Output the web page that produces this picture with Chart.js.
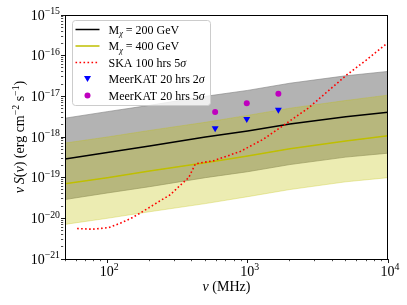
<!DOCTYPE html>
<html>
<head>
<meta charset="utf-8">
<script src="https://cdn.jsdelivr.net/npm/chart.js@4.4.0/dist/chart.umd.min.js"></script>
<style>
  html, body { margin: 0; padding: 0; background: #fff; }
  #wrap { width: 407px; height: 305px; }
</style>
</head>
<body>
<div id="wrap"><canvas id="chart"></canvas></div>
<script>
// model curves, frequency in MHz
const freqs = [50, 100, 200, 500, 1000, 2000, 5000, 10000];
const flux200 = [2.88e-19, 4.17e-19, 6.03e-19, 1.0e-18, 1.41e-18, 2.09e-18, 3.16e-18, 4.07e-18];
const band200Hi = [2.9e-18, 4.2e-18, 6.0e-18, 1.0e-17, 1.4e-17, 2.1e-17, 3.2e-17, 4.1e-17];
const band200Lo = [2.9e-20, 4.2e-20, 6.0e-20, 1.0e-19, 1.4e-19, 2.1e-19, 3.2e-19, 4.0e-19];
const flux400 = [7.1e-20, 1.0e-19, 1.45e-19, 2.34e-19, 3.39e-19, 5.13e-19, 7.94e-19, 1.07e-18];
const band400Hi = [7.1e-19, 1.0e-18, 1.45e-18, 2.3e-18, 3.4e-18, 5.1e-18, 7.9e-18, 1.07e-17];
const band400Lo = [7.1e-21, 1.0e-20, 1.45e-20, 2.3e-20, 3.4e-20, 5.1e-20, 7.9e-20, 1.0e-19];

// SKA sensitivity curve
const skaFreqs = [61, 78, 102, 124, 146, 172, 202, 238, 281, 331, 380, 425, 570, 885, 1300, 1900, 2700, 5100, 7000, 10000];
const skaFlux = [5.6e-21, 5.4e-21, 5.9e-21, 7.6e-21, 9.8e-21, 1.35e-20, 1.9e-20, 2.7e-20, 3.8e-20, 6.5e-20, 1.0e-19, 2.2e-19, 2.6e-19, 4.4e-19, 8.9e-19, 2.2e-18, 5.1e-18, 3.4e-17, 7.8e-17, 2.1e-16];

// MeerKAT points
const meerFreqs = [587, 986, 1656];
const meer2sig = [1.65e-18, 2.77e-18, 4.7e-18];
const meer5sig = [4.1e-18, 6.8e-18, 1.15e-17];

// axis decades (tick label exponents)
const xDecades = [2, 3, 4];
const yDecades = [-21, -20, -19, -18, -17, -16, -15];

const legendLabels = ['200 GeV', '400 GeV', 'SKA 100 hrs 5', 'MeerKAT 20 hrs 2', 'MeerKAT 20 hrs 5'];

const SERIF = '"Liberation Serif", "DejaVu Serif", serif';
const GREY_FILL = 'rgba(128,128,128,0.6)';
const YEL_FILL = 'rgba(191,191,0,0.3)';

const zip = (xs, ys) => xs.map((x, i) => ({ x: x, y: ys[i] }));
const isDecade = v => Math.abs(Math.log10(v) - Math.round(Math.log10(v))) < 1e-6;

// minor + major tick positions
function logTicks(lo, hi) {
  const out = [];
  for (let e = lo; e < hi; e++) {
    for (let k = 1; k < 10; k++) out.push(k * Math.pow(10, e));
  }
  out.push(Math.pow(10, hi));
  return out;
}
const xTickVals = logTicks(1, 4).filter(v => v >= 50);
const yTickVals = logTicks(-21, -15);

// draw a row of text pieces (normal / italic / superscript)
function richWidth(ctx, parts, size) {
  let w = 0;
  parts.forEach(p => {
    ctx.font = (p.it ? 'italic ' : '') + (p.sup || p.sub ? size * 0.7 : size) + 'px ' + SERIF;
    w += ctx.measureText(p.t).width;
  });
  return w;
}
function drawRich(ctx, parts, x, y, size, align) {
  let w = richWidth(ctx, parts, size);
  let cx = align === 'center' ? x - w / 2 : align === 'right' ? x - w : x;
  ctx.textAlign = 'left';
  ctx.textBaseline = 'alphabetic';
  parts.forEach(p => {
    const s = p.sup || p.sub ? size * 0.7 : size;
    ctx.font = (p.it ? 'italic ' : '') + s + 'px ' + SERIF;
    let dy = p.sup ? -size * 0.38 : p.sub ? size * 0.22 : 0;
    ctx.fillText(p.t, cx, y + dy);
    cx += ctx.measureText(p.t).width;
  });
}

const decorPlugin = {
  id: 'decor',
  afterDraw(chart) {
    const ctx = chart.ctx;
    const a = chart.chartArea;
    const xs = chart.scales.x, ys = chart.scales.y;
    ctx.save();
    ctx.fillStyle = '#000';

    // frame
    ctx.strokeStyle = '#000';
    ctx.lineWidth = 1;
    ctx.strokeRect(Math.round(a.left) + 0.5, Math.round(a.top) + 0.5,
      Math.round(a.right - a.left) - 1, Math.round(a.bottom - a.top));

    // tick labels
    xDecades.forEach(e => {
      const px = xs.getPixelForValue(Math.pow(10, e));
      drawRich(ctx, [{ t: '10' }, { t: String(e), sup: true }], px + 2, a.bottom + 16.5, 14, 'center');
    });
    yDecades.forEach(e => {
      const py = ys.getPixelForValue(Math.pow(10, e));
      drawRich(ctx, [{ t: '10' }, { t: '\u2212' + String(-e), sup: true }], a.left - 5, py + 4.5, 14, 'right');
    });

    // axis titles
    drawRich(ctx, [{ t: '\u03bd', it: true }, { t: ' (MHz)' }], (a.left + a.right) / 2, 291, 14, 'center');
    ctx.save();
    ctx.translate(19, (a.top + a.bottom) / 2);
    ctx.rotate(-Math.PI / 2);
    drawRich(ctx, [
      { t: '\u03bd', it: true }, { t: '\u2009' }, { t: 'S', it: true }, { t: '(' }, { t: '\u03bd', it: true }, { t: ')' },
      { t: ' (erg cm' }, { t: '\u22122', sup: true }, { t: ' s' }, { t: '\u22121', sup: true }, { t: ')' }
    ], 0, 5, 14, 'center');
    ctx.restore();

    // legend
    const lx = a.left + 7, ly = a.top + 5, lw = 138, lh = 85;
    ctx.beginPath();
    ctx.roundRect(lx + 0.5, ly + 0.5, lw, lh, 3);
    ctx.fillStyle = 'rgba(255,255,255,0.8)';
    ctx.fill();
    ctx.strokeStyle = '#cccccc';
    ctx.lineWidth = 1;
    ctx.stroke();

    const rowY = i => ly + 9.5 + i * 16.5;
    const hx0 = lx + 3.5, hx1 = lx + 27.5, tx = lx + 36.5;
    const handle = (i, color, dash, width) => {
      ctx.beginPath();
      ctx.setLineDash(dash);
      ctx.strokeStyle = color;
      ctx.lineWidth = width;
      ctx.moveTo(hx0, rowY(i));
      ctx.lineTo(hx1, rowY(i));
      ctx.stroke();
      ctx.setLineDash([]);
    };
    handle(0, '#000', [], 1.5);
    handle(1, '#bfbf00', [], 1.5);
    handle(2, '#ff0000', [1.6, 2.4], 1.6);
    // triangle marker
    const mx = (hx0 + hx1) / 2;
    ctx.fillStyle = '#0000ff';
    ctx.beginPath();
    ctx.moveTo(mx - 3.5, rowY(3) - 3);
    ctx.lineTo(mx + 3.5, rowY(3) - 3);
    ctx.lineTo(mx, rowY(3) + 3);
    ctx.closePath();
    ctx.fill();
    ctx.fillStyle = '#bf00bf';
    ctx.beginPath();
    ctx.arc(mx, rowY(4), 3, 0, Math.PI * 2);
    ctx.fill();

    ctx.fillStyle = '#000';
    const fs = 12, base = 4;
    drawRich(ctx, [{ t: 'M' }, { t: '\u03c7', it: true, sub: true }, { t: ' = ' + legendLabels[0] }], tx, rowY(0) + base, fs, 'left');
    drawRich(ctx, [{ t: 'M' }, { t: '\u03c7', it: true, sub: true }, { t: ' = ' + legendLabels[1] }], tx, rowY(1) + base, fs, 'left');
    drawRich(ctx, [{ t: legendLabels[2] }, { t: '\u03c3', it: true }], tx, rowY(2) + base, fs, 'left');
    drawRich(ctx, [{ t: legendLabels[3] }, { t: '\u03c3', it: true }], tx, rowY(3) + base, fs, 'left');
    drawRich(ctx, [{ t: legendLabels[4] }, { t: '\u03c3', it: true }], tx, rowY(4) + base, fs, 'left');
    ctx.restore();
  }
};

const tickGrid = {
  drawOnChartArea: false,
  drawTicks: true,
  tickLength: 4,
  tickColor: '#000',
  tickWidth: c => (c.tick && isDecade(c.tick.value)) ? 0.9 : 0.7,
  tickBorderDash: c => (c.tick && isDecade(c.tick.value)) ? [] : [2.2, 10]
};

new Chart(document.getElementById('chart'), {
  type: 'line',
  data: {
    datasets: [
      { data: zip(freqs, band200Hi), borderColor: GREY_FILL, borderWidth: 1, pointRadius: 0, fill: false, order: 11 },
      { data: zip(freqs, band200Lo), borderColor: GREY_FILL, borderWidth: 1, pointRadius: 0, fill: 0, backgroundColor: GREY_FILL, order: 10 },
      { data: zip(freqs, band400Hi), borderColor: YEL_FILL, borderWidth: 1, pointRadius: 0, fill: false, order: 9 },
      { data: zip(freqs, band400Lo), borderColor: YEL_FILL, borderWidth: 1, pointRadius: 0, fill: 2, backgroundColor: YEL_FILL, order: 8 },
      { data: zip(freqs, flux400), borderColor: '#bfbf00', borderWidth: 1.5, pointRadius: 0, fill: false, order: 3 },
      { data: zip(freqs, flux200), borderColor: '#000000', borderWidth: 1.5, pointRadius: 0, fill: false, order: 2 },
      { data: zip(skaFreqs, skaFlux), borderColor: '#ff0000', borderWidth: 1.6, borderDash: [1.6, 2.4], pointRadius: 0, fill: false, order: 1 },
      { data: zip(meerFreqs, meer2sig), showLine: false, pointStyle: 'triangle', rotation: 180, pointRadius: 4, backgroundColor: '#0000ff', borderColor: '#0000ff', borderWidth: 0, order: 0 },
      { data: zip(meerFreqs, meer5sig), showLine: false, pointStyle: 'circle', pointRadius: 3, backgroundColor: '#bf00bf', borderColor: '#bf00bf', borderWidth: 0, order: 0 }
    ]
  },
  options: {
    responsive: true,
    maintainAspectRatio: false,
    animation: false,
    devicePixelRatio: 1,
    layout: { padding: { left: 0, top: 15, right: 19, bottom: 0 } },
    plugins: { legend: { display: false }, tooltip: { enabled: false } },
    elements: { line: { tension: 0 } },
    scales: {
      x: {
        type: 'logarithmic', min: 50, max: 10000,
        afterBuildTicks: s => { s.ticks = xTickVals.map(v => ({ value: v })); },
        afterFit: s => { s.height = 46; },
        ticks: { callback: () => '', autoSkip: false, maxRotation: 0 },
        grid: tickGrid,
        border: { display: false }
      },
      y: {
        type: 'logarithmic', min: 1e-21, max: 1e-15,
        afterBuildTicks: s => { s.ticks = yTickVals.map(v => ({ value: v })); },
        afterFit: s => { s.width = 65; },
        ticks: { callback: () => '', autoSkip: false },
        grid: tickGrid,
        border: { display: false }
      }
    }
  },
  plugins: [decorPlugin]
});
</script>
</body>
</html>
